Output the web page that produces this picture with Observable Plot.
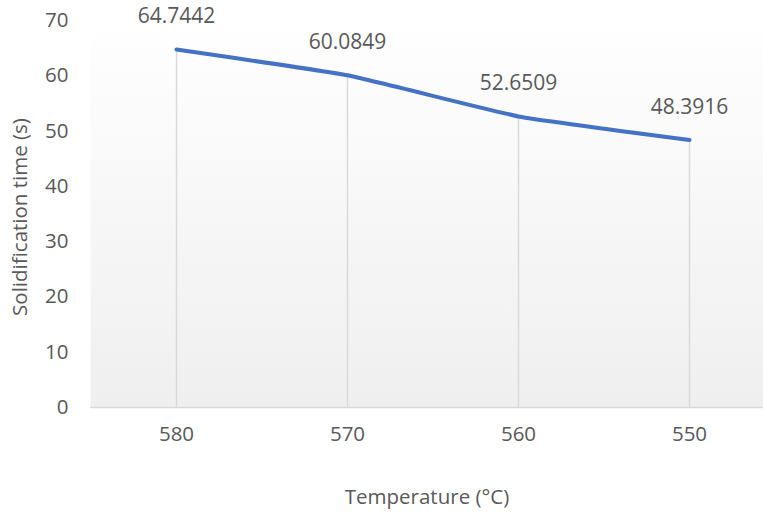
<!DOCTYPE html>
<html><head><meta charset="utf-8">
<script src="https://cdn.jsdelivr.net/npm/d3@7"></script>
<script src="https://cdn.jsdelivr.net/npm/@observablehq/plot@0.6"></script>
<style>body{margin:0;background:#fff;} svg{display:block;}</style>
</head><body><div id="chart"></div>
<script>
const temperatures = ["580", "570", "560", "550"];
const times = [64.7442, 60.0849, 52.6509, 48.3916];
const yTicks = [0, 10, 20, 30, 40, 50, 60, 70];
const xLabel = "Temperature (°C)";
const yLabel = "Solidification time (s)";

const data = temperatures.map((t, i) => ({t, v: times[i]}));
const font = "'Open Sans', sans-serif";
const txt = "#595959";

const chart = Plot.plot({
  width: 763, height: 512,
  marginLeft: 90, marginRight: 0, marginTop: 20, marginBottom: 105,
  style: {fontFamily: font, fontSize: "20px", color: txt, background: "#fff"},
  x: {type: "point", domain: temperatures, padding: 0.5, range: [90, 774], label: null},
  y: {domain: [0, 70], label: null},
  marks: [
    Plot.frame({fill: "url(#bggrad)", stroke: "none"}),
    Plot.axisY({ticks: yTicks, tickSize: 0, tickPadding: 22, fontSize: 20.5}),
    Plot.axisX({tickSize: 0, tickPadding: 19, fontSize: 20.5}),
    Plot.ruleX(data, {x: "t", y1: 0, y2: "v", stroke: "#d9d9d9", strokeWidth: 1.5}),
    Plot.ruleY([0], {stroke: "#d9d9d9", strokeWidth: 1.5}),
    Plot.line(data, {x: "t", y: "v", stroke: "#4472C4", strokeWidth: 4, curve: "cardinal", tension: 0.65, strokeLinecap: "round"}),
    Plot.text(data, {x: "t", y: "v", text: d => d.v.toFixed(4), dy: -33, fill: txt, fontSize: 21}),
    Plot.text([xLabel], {frameAnchor: "bottom", dy: 96, fill: txt, fontSize: 20.5}),
    Plot.text([yLabel], {frameAnchor: "left", textAnchor: "middle", dx: -70, dy: 3, rotate: -90, fill: txt, fontSize: 20.5})
  ]
});
const defs = d3.select(chart).insert("defs", ":first-child");
const g = defs.append("linearGradient").attr("id", "bggrad").attr("x1", 0).attr("y1", 0).attr("x2", 0).attr("y2", 1);
g.append("stop").attr("offset", "0").attr("stop-color", "#ffffff");
g.append("stop").attr("offset", "0.11").attr("stop-color", "#fdfdfd");
g.append("stop").attr("offset", "1").attr("stop-color", "#efefef");
document.getElementById("chart").appendChild(chart);
</script></body></html>
